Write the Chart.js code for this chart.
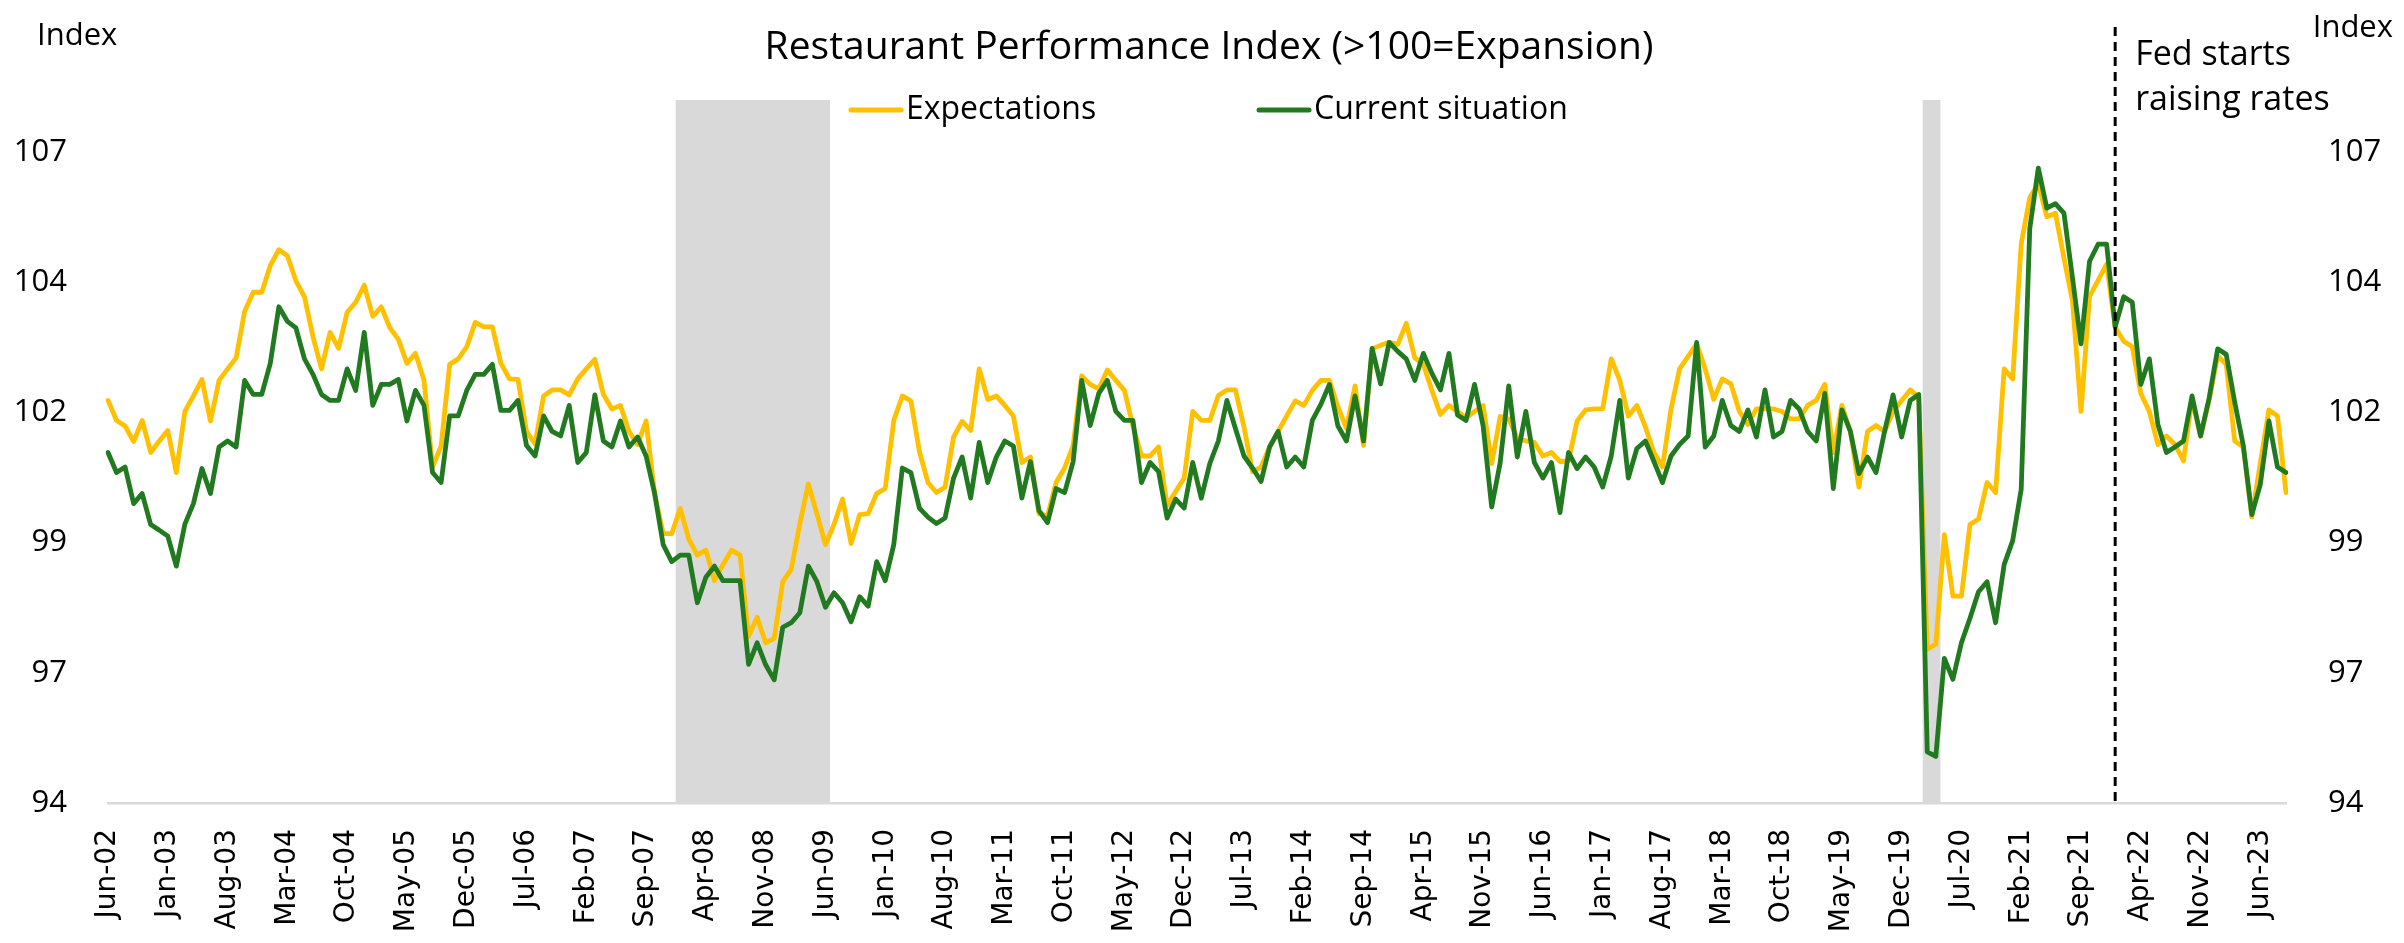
<!DOCTYPE html>
<html>
<head>
<meta charset="utf-8">
<title>Restaurant Performance Index</title>
<script src="https://cdn.jsdelivr.net/npm/chart.js@4.4.1/dist/chart.umd.min.js"></script>
<style>
  html, body { margin: 0; padding: 0; background: #fff; }
  .wrap { position: relative; width: 2404px; height: 943px; }
</style>
</head>
<body>
<div class="wrap"><canvas id="rpiChart"></canvas></div>
<script>
/* ── Data ── */
const monthNames = ['Jan','Feb','Mar','Apr','May','Jun','Jul','Aug','Sep','Oct','Nov','Dec'];
const firstMonth = { year: 2002, month: 5 };   // Jun-02
const lastMonth  = { year: 2023, month: 8 };   // Sep-23

const labels = [];
for (let y = firstMonth.year; y <= lastMonth.year; y++) {
  for (let m = 0; m < 12; m++) {
    if (y === firstMonth.year && m < firstMonth.month) continue;
    if (y === lastMonth.year && m > lastMonth.month) continue;
    labels.push(monthNames[m] + '-' + String(y).slice(2));
  }
}

const expectations = [
  102.04, 101.64, 101.53, 101.22, 101.64, 101.00, 101.23, 101.44, 100.60, 101.82, 102.13, 102.46,
  101.63, 102.44, 102.67, 102.89, 103.82, 104.20, 104.20, 104.73, 105.05, 104.93, 104.43, 104.11,
  103.31, 102.67, 103.40, 103.08, 103.80, 104.00, 104.34, 103.72, 103.91, 103.49, 103.26, 102.78,
  102.98, 102.44, 100.71, 101.13, 102.76, 102.87, 103.11, 103.60, 103.51, 103.51, 102.78, 102.47,
  102.46, 101.42, 101.17, 102.13, 102.25, 102.25, 102.15, 102.47, 102.67, 102.86, 102.16, 101.87,
  101.94, 101.42, 101.16, 101.63, 100.18,  99.38,  99.38,  99.88,  99.27,  98.95,  99.05,  98.44,
   98.76,  99.05,  98.95,  97.33,  97.71,  97.20,  97.29,  98.42,  98.67,  99.58, 100.37,  99.78,
   99.16,  99.56, 100.07,  99.18,  99.76,  99.78, 100.18, 100.28, 101.64, 102.13, 102.03, 101.02,
  100.40, 100.20, 100.31, 101.31, 101.62, 101.44, 102.67, 102.06, 102.13, 101.94, 101.73, 100.80,
  100.91,  99.78,  99.73, 100.40, 100.69, 101.14, 102.53, 102.36, 102.27, 102.65, 102.44, 102.24,
  101.53, 100.93, 100.93, 101.11,  99.94, 100.22, 100.49, 101.82, 101.64, 101.64, 102.14, 102.25,
  102.25, 101.51, 100.62, 100.71, 101.11, 101.42, 101.73, 102.03, 101.94, 102.24, 102.44, 102.44,
  101.91, 101.48, 102.33, 101.14, 103.07, 103.14, 103.20, 103.16, 103.58, 102.89, 102.76, 102.24,
  101.76, 101.94, 101.82, 101.69, 101.82, 101.94, 100.78, 101.72, 101.67, 101.29, 101.23, 101.20,
  100.93, 101.00, 100.82, 100.83, 101.63, 101.85, 101.87, 101.87, 102.87, 102.44, 101.73, 101.94,
  101.51, 101.00, 100.71, 101.87, 102.67, 102.92, 103.17, 102.67, 102.06, 102.47, 102.37, 101.82,
  101.56, 101.87, 101.87, 101.87, 101.82, 101.67, 101.67, 101.94, 102.04, 102.36, 101.00, 101.94,
  101.42, 100.31, 101.42, 101.54, 101.42, 101.82, 102.04, 102.25, 102.10,  97.07,  97.17,  99.36,
   98.13,  98.13,  99.56,  99.67, 100.40, 100.20, 102.67, 102.47, 105.17, 106.09, 106.36, 105.71,
  105.78, 104.89, 104.03, 101.82, 104.12, 104.44, 104.76, 103.50, 103.22, 103.11, 102.18, 101.82,
  101.16, 101.33, 101.16, 100.83, 102.07, 101.33, 102.04, 102.93, 102.76, 101.23, 101.11,  99.71,
  100.80, 101.85, 101.73, 100.20
];

const currentSituation = [
  101.00, 100.60, 100.71,  99.98, 100.18,  99.56,  99.45,  99.33,  98.73,  99.57,  99.98, 100.68,
  100.18, 101.11, 101.23, 101.11, 102.44, 102.16, 102.16, 102.78, 103.91, 103.62, 103.49, 102.87,
  102.56, 102.16, 102.04, 102.04, 102.67, 102.24, 103.40, 101.94, 102.36, 102.36, 102.46, 101.63,
  102.24, 101.94, 100.60, 100.40, 101.73, 101.73, 102.24, 102.56, 102.56, 102.76, 101.84, 101.84,
  102.04, 101.14, 100.93, 101.73, 101.42, 101.33, 101.94, 100.80, 101.00, 102.15, 101.23, 101.11,
  101.63, 101.11, 101.31, 100.93, 100.18,  99.16,  98.82,  98.95,  98.95,  98.00,  98.51,  98.73,
   98.44,  98.44,  98.44,  96.77,  97.20,  96.76,  96.46,  97.51,  97.60,  97.80,  98.73,  98.42,
   97.91,  98.20,  98.00,  97.62,  98.12,  97.93,  98.82,  98.44,  99.16, 100.69, 100.60,  99.89,
   99.71,  99.58,  99.69, 100.49, 100.91, 100.09, 101.20, 100.40, 100.91, 101.23, 101.13, 100.09,
  100.82,  99.84,  99.60, 100.28, 100.20, 100.82, 102.44, 101.54, 102.18, 102.44, 101.82, 101.64,
  101.64, 100.40, 100.80, 100.62,  99.69, 100.07,  99.89, 100.80, 100.09, 100.78, 101.23, 102.04,
  101.48, 100.93, 100.69, 100.42, 101.11, 101.42, 100.71, 100.91, 100.71, 101.64, 101.96, 102.36,
  101.53, 101.23, 102.13, 101.23, 103.08, 102.37, 103.20, 103.02, 102.87, 102.44, 102.98, 102.58,
  102.25, 102.98, 101.75, 101.64, 102.36, 101.53,  99.91, 100.80, 102.33, 100.91, 101.82, 100.80,
  100.49, 100.80,  99.80, 101.00, 100.68, 100.91, 100.71, 100.31, 100.93, 102.04, 100.49, 101.08,
  101.23, 100.82, 100.40, 100.93, 101.16, 101.33, 103.20, 101.11, 101.33, 102.04, 101.54, 101.42,
  101.85, 101.31, 102.25, 101.31, 101.42, 102.04, 101.87, 101.42, 101.23, 102.18, 100.28, 101.85,
  101.42, 100.58, 100.91, 100.60, 101.42, 102.15, 101.31, 102.04, 102.16,  95.02,  94.93,  96.89,
   96.47,  97.20,  97.69,  98.22,  98.42,  97.60,  98.76,  99.24, 100.27, 105.47, 106.68, 105.88,
  105.97, 105.78, 104.49, 103.17, 104.82, 105.16, 105.16, 103.51, 104.11, 104.00, 102.36, 102.87,
  101.56, 101.00, 101.11, 101.23, 102.13, 101.33, 102.09, 103.07, 102.96, 102.00, 101.14,  99.76,
  100.37, 101.63, 100.71, 100.60
];

// recession periods (shaded), first and last month
const recessions = [['Jan-08', 'Jun-09'], ['Mar-20', 'Apr-20']];
const fedMonth   = 'Jan-22';

const yMin   = 94;
const yMax   = 108.04;
const yTicks = [94, 96.6, 99.2, 101.8, 104.4, 107];
const labelEvery = 7;   // show every 7th month on the x axis

const recessionBars = labels.map((l, i) =>
  recessions.some(([a, b]) => i >= labels.indexOf(a) && i <= labels.indexOf(b)) ? yMax : null
);

/* ── Text overlays ── */
const SANS = '"Open Sans", "Noto Sans", sans-serif';

const overlays = {
  id: 'overlays',
  afterDraw(chart) {
    const { ctx, chartArea, scales } = chart;
    ctx.save();
    ctx.fillStyle = '#000';

    // title
    ctx.font = `39px ${SANS}`;
    ctx.textAlign = 'center';
    ctx.textBaseline = 'alphabetic';
    ctx.fillText('Restaurant Performance Index (>100=Expansion)', 1209, 59);

    // axis titles
    ctx.font = `31px ${SANS}`;
    ctx.textAlign = 'left';
    ctx.fillText('Index', 37, 45);
    ctx.textAlign = 'right';
    ctx.fillText('Index', 2393, 37);

    // fed line
    const fx = scales.x.getPixelForValue(labels.indexOf(fedMonth));
    ctx.strokeStyle = '#000';
    ctx.lineWidth = 3;
    ctx.setLineDash([9, 6]);
    ctx.beginPath();
    ctx.moveTo(fx, 27);
    ctx.lineTo(fx, chartArea.bottom);
    ctx.stroke();
    ctx.setLineDash([]);

    ctx.font = `34px ${SANS}`;
    ctx.textAlign = 'left';
    ctx.fillText('Fed starts', fx + 20, 65);
    ctx.fillText('raising rates', fx + 20, 110);

    // legend
    const legendX = [849, 1257];
    ctx.font = `32px ${SANS}`;
    ctx.textBaseline = 'middle';
    chart.data.datasets.filter(d => d.type === 'line').forEach((d, k) => {
      const x = legendX[k];
      ctx.strokeStyle = d.borderColor;
      ctx.lineWidth = 5;
      ctx.lineCap = 'round';
      ctx.beginPath();
      ctx.moveTo(x + 2, 110);
      ctx.lineTo(x + 52, 110);
      ctx.stroke();
      ctx.fillText(d.label, x + 57, 110);
    });
    ctx.restore();
  }
};

/* ── Chart ── */
const ctx = document.getElementById('rpiChart').getContext('2d');

const yAxis = (position, padding, width) => ({
  position,
  min: yMin,
  max: yMax,
  afterBuildTicks: s => { s.ticks = yTicks.map(v => ({ value: v })); },
  afterFit: s => { s.width = width; },
  grid: { display: false, drawTicks: false },
  border: { display: false },
  ticks: {
    padding,
    color: '#000',
    font: { family: SANS, size: 31 },
    callback: v => Math.round(v)
  }
});

new Chart(ctx, {
  type: 'line',
  data: {
    labels,
    datasets: [
      {
        type: 'line',
        label: 'Expectations',
        data: expectations,
        borderColor: '#FFC000',
        borderWidth: 4.8,
        pointRadius: 0,
        tension: 0,
        borderJoinStyle: 'round',
        borderCapStyle: 'round',
        order: 2
      },
      {
        type: 'line',
        label: 'Current situation',
        data: currentSituation,
        borderColor: '#217A1F',
        borderWidth: 4.8,
        pointRadius: 0,
        tension: 0,
        borderJoinStyle: 'round',
        borderCapStyle: 'round',
        order: 1
      },
      {
        type: 'bar',
        label: 'Recession',
        data: recessionBars,
        backgroundColor: '#D9D9D9',
        barPercentage: 1,
        categoryPercentage: 1,
        order: 3
      }
    ]
  },
  options: {
    responsive: true,
    maintainAspectRatio: false,
    animation: false,
    events: [],
    layout: { padding: { top: 100, left: 0, right: 0, bottom: 0 } },
    plugins: {
      legend: { display: false },
      title: { display: false },
      tooltip: { enabled: false }
    },
    scales: {
      x: {
        type: 'category',
        offset: false,
        afterFit: s => { s.height = 140; },
        grid: { display: false, drawTicks: false },
        border: { display: true, color: '#D9D9D9', width: 2.5 },
        ticks: {
          autoSkip: false,
          minRotation: 90,
          maxRotation: 90,
          padding: 26,
          color: '#000',
          font: { family: '"DejaVu Sans", sans-serif', size: 28 },
          callback: (v, i) => (i % labelEvery === 0 ? labels[i] : '')
        }
      },
      y: yAxis('left', 41, 108),
      y1: yAxis('right', 42, 118)
    }
  },
  plugins: [overlays]
});
</script>
</body>
</html>
